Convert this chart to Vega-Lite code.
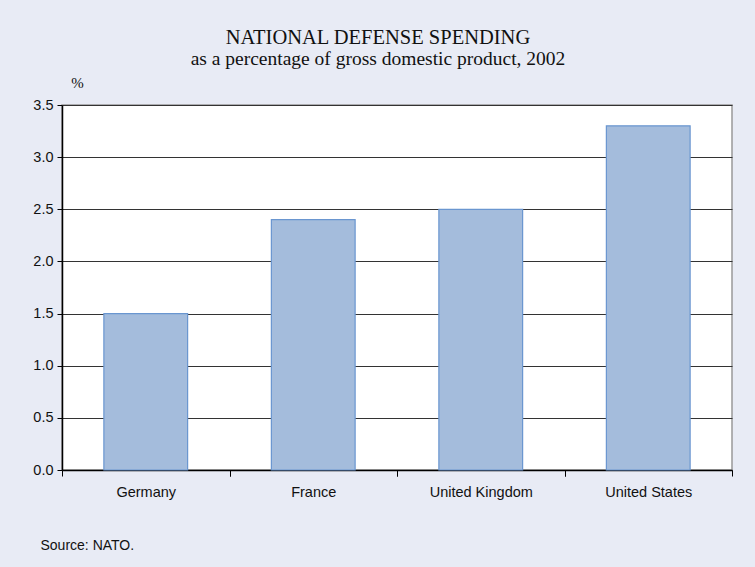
{
  "$schema": "https://vega.github.io/schema/vega-lite/v6.json",
  "width": 670,
  "height": 365,
  "autosize": {"type": "none"},
  "padding": {"left": 62, "top": 105, "right": 23, "bottom": 97},
  "background": "#E8EBF5",
  "title": {
    "text": "NATIONAL DEFENSE SPENDING",
    "subtitle": "as a percentage of gross domestic product, 2002",
    "anchor": "middle",
    "dx": -19,
    "offset": 7,
    "font": "Liberation Serif",
    "fontSize": 20.5,
    "fontWeight": "normal",
    "color": "#111111",
    "subtitleFont": "Liberation Serif",
    "subtitleFontSize": 19.5,
    "subtitleColor": "#111111",
    "subtitlePadding": 1
  },
  "config": {
    "view": {"fill": "white", "stroke": "#999999", "strokeWidth": 1.5}
  },
  "data": {
    "values": [
      {"country": "Germany", "pct": 1.5},
      {"country": "France", "pct": 2.4},
      {"country": "United Kingdom", "pct": 2.5},
      {"country": "United States", "pct": 3.3}
    ]
  },
  "resolve": {"axis": {"x": "independent"}},
  "layer": [
    {
      "mark": {"type": "bar", "fill": "#A4BCDC", "stroke": "#6A96D0", "strokeWidth": 1.2},
      "encoding": {
        "x": {
          "field": "country",
          "type": "nominal",
          "sort": null,
          "scale": {"paddingInner": 0.5, "paddingOuter": 0.25},
          "axis": {
            "orient": "bottom",
            "title": "Source: NATO.",
            "titleAnchor": "start",
            "titleAlign": "left",
            "titleBaseline": "alphabetic",
            "titleX": -22,
            "titleY": 79,
            "titleFont": "Liberation Sans",
            "titleFontSize": 14,
            "titleFontWeight": "normal",
            "titleColor": "#111111",
            "labelAngle": 0,
            "labelFont": "Liberation Sans",
            "labelFontSize": 14.5,
            "labelColor": "#111111",
            "labelPadding": 9,
            "tickOffset": -83.75,
            "labelOffset": 83.75,
            "tickSize": 6,
            "tickColor": "#000000",
            "domainColor": "#000000",
            "domainWidth": 1.5,
            "grid": false
          }
        },
        "y": {
          "field": "pct",
          "type": "quantitative",
          "scale": {"domain": [0, 3.5], "nice": false},
          "axis": {
            "title": "%",
            "titleAngle": 0,
            "titleAlign": "center",
            "titleBaseline": "alphabetic",
            "titleX": 15,
            "titleY": -18,
            "titleFont": "Liberation Serif",
            "titleFontSize": 15,
            "titleFontWeight": "normal",
            "titleColor": "#111111",
            "values": [0, 0.5, 1, 1.5, 2, 2.5, 3, 3.5],
            "format": ".1f",
            "labelFont": "Liberation Sans",
            "labelFontSize": 14.5,
            "labelColor": "#111111",
            "labelPadding": 4,
            "tickSize": 5,
            "tickColor": "#000000",
            "domainColor": "#000000",
            "domainWidth": 1.5,
            "grid": true,
            "gridColor": "#333333",
            "gridWidth": 1.2,
            "gridOpacity": 1
          }
        }
      }
    },
    {
      "mark": {"type": "rule", "strokeOpacity": 0},
      "encoding": {
        "x": {
          "field": "country",
          "type": "nominal",
          "sort": null,
          "axis": {
            "orient": "bottom",
            "title": null,
            "labels": false,
            "domain": false,
            "grid": false,
            "tickOffset": 83.75,
            "tickSize": 6,
            "tickColor": "#000000"
          }
        }
      }
    }
  ]
}
